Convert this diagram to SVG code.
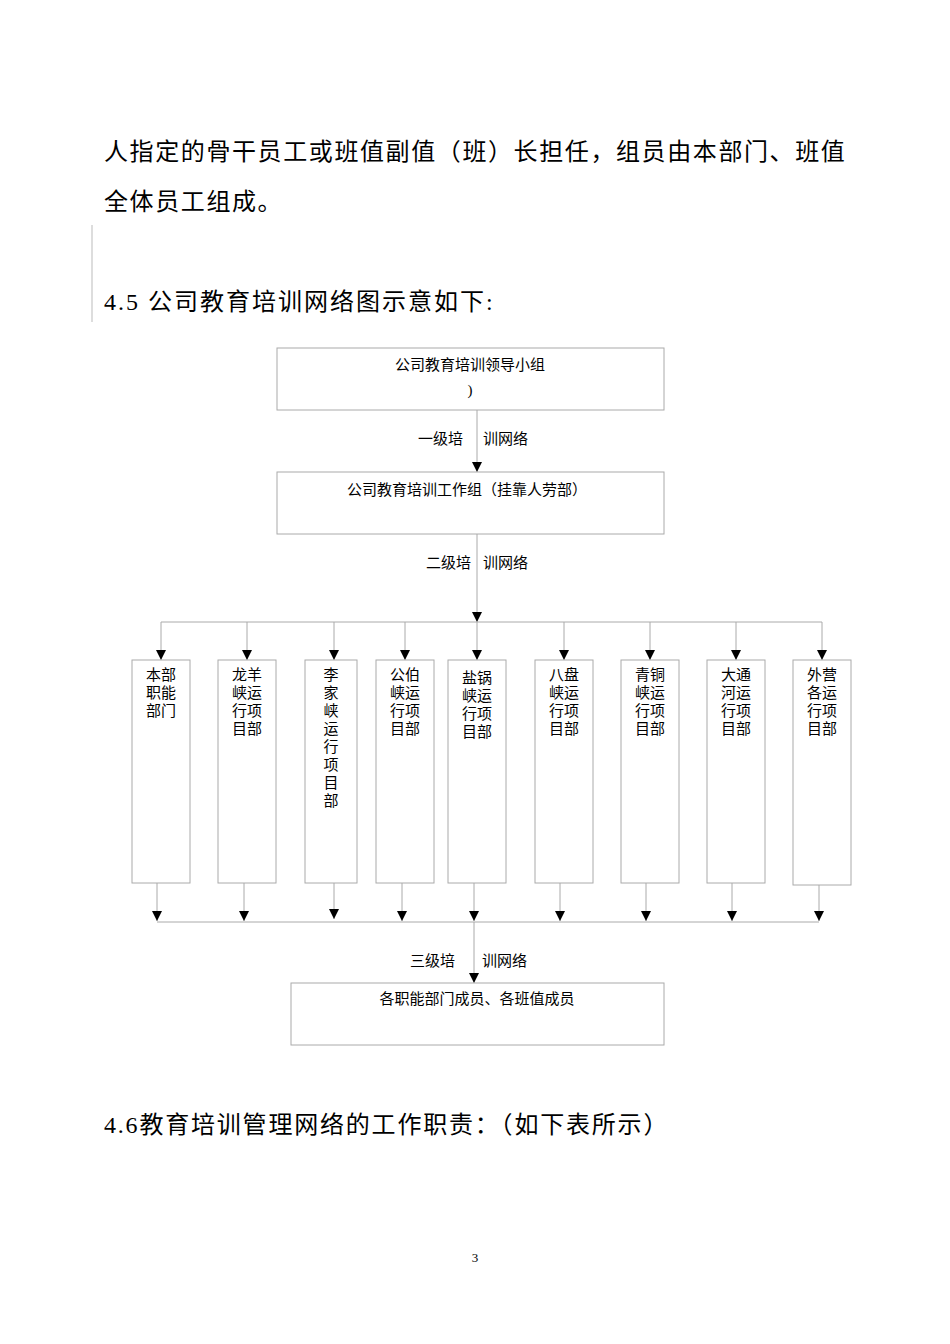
<svg xmlns="http://www.w3.org/2000/svg" width="950" height="1344" viewBox="0 0 950 1344">
<defs>
<marker id="ah" viewBox="0 0 10 10" refX="10" refY="5" markerWidth="10" markerHeight="10" markerUnits="userSpaceOnUse" orient="auto"><path d="M0,0 L10,5 L0,10 z" fill="#000"/></marker>
<style>
.b{fill:#fff;stroke:#aaa;stroke-width:1}
.t{font-family:"Liberation Serif","Noto Sans CJK SC",serif;font-size:15px;fill:#000}
.big{font-family:"Liberation Serif","Noto Sans CJK SC",serif;font-size:24px;fill:#000}
.c{stroke:#aaa;stroke-width:1;fill:none}
.a{stroke:#aaa;stroke-width:1;fill:none;marker-end:url(#ah)}
</style>
</defs>
<rect width="950" height="1344" fill="#fff"/>
<text class="big" x="104" y="160" letter-spacing="1.6">人指定的骨干员工或班值副值（班）长担任，组员由本部门、班值</text>
<text class="big" x="104" y="210" letter-spacing="1.6">全体员工组成。</text>
<line x1="92" y1="225" x2="92" y2="322" stroke="#bbb"/>
<text class="big" x="104" y="310" letter-spacing="2">4.5 公司教育培训网络图示意如下:</text>
<g id="connectors">
<line class="a" x1="477" y1="410" x2="477" y2="472"/>
<line class="a" x1="477" y1="534" x2="477" y2="622"/>
<line class="c" x1="161" y1="622" x2="822" y2="622"/>
<line class="a" x1="161" y1="622" x2="161" y2="660"/>
<line class="a" x1="247" y1="622" x2="247" y2="660"/>
<line class="a" x1="334" y1="622" x2="334" y2="660"/>
<line class="a" x1="405" y1="622" x2="405" y2="660"/>
<line class="a" x1="477" y1="622" x2="477" y2="660"/>
<line class="a" x1="564" y1="622" x2="564" y2="660"/>
<line class="a" x1="650" y1="622" x2="650" y2="660"/>
<line class="a" x1="736" y1="622" x2="736" y2="660"/>
<line class="a" x1="822" y1="622" x2="822" y2="660"/>
<line class="a" x1="157" y1="883" x2="157" y2="921"/>
<line class="a" x1="244" y1="883" x2="244" y2="921"/>
<line class="a" x1="334" y1="883" x2="334" y2="919"/>
<line class="a" x1="402" y1="883" x2="402" y2="921"/>
<line class="a" x1="474" y1="883" x2="474" y2="921"/>
<line class="a" x1="560" y1="883" x2="560" y2="921"/>
<line class="a" x1="646" y1="883" x2="646" y2="921"/>
<line class="a" x1="732" y1="883" x2="732" y2="921"/>
<line class="a" x1="819" y1="885" x2="819" y2="921"/>
<line class="c" x1="157" y1="922" x2="819" y2="922"/>
<line class="a" x1="474" y1="922" x2="474" y2="983"/>
</g>
<text class="t" x="418" y="444">一级培</text><text class="t" x="483" y="444">训网络</text>
<text class="t" x="426" y="568">二级培</text><text class="t" x="483" y="568">训网络</text>
<text class="t" x="410" y="966" font-size="18">三级培</text><text class="t" x="482" y="966" font-size="18">训网络</text>
<g id="n1"><rect class="b" x="277" y="348" width="387" height="62"/><text class="t" x="470" y="370" text-anchor="middle">公司教育培训领导小组</text><text class="t" x="470" y="395" text-anchor="middle" font-size="20">)</text></g>
<g id="n2"><rect class="b" x="277" y="472" width="387" height="62"/><text class="t" x="467" y="495" text-anchor="middle">公司教育培训工作组（挂靠人劳部）</text></g>
<g id="c1"><rect class="b" x="132" y="660" width="58" height="223"/><text class="t" x="161" y="680" text-anchor="middle">本部<tspan x="161" dy="18">职能</tspan><tspan x="161" dy="18">部门</tspan></text></g>
<g id="c2"><rect class="b" x="218" y="660" width="58" height="223"/><text class="t" x="247" y="680" text-anchor="middle">龙羊<tspan x="247" dy="18">峡运</tspan><tspan x="247" dy="18">行项</tspan><tspan x="247" dy="18">目部</tspan></text></g>
<g id="c3"><rect class="b" x="305" y="660" width="52" height="223"/><text class="t" x="331" y="680" text-anchor="middle">李<tspan x="331" dy="18">家</tspan><tspan x="331" dy="18">峡</tspan><tspan x="331" dy="18">运</tspan><tspan x="331" dy="18">行</tspan><tspan x="331" dy="18">项</tspan><tspan x="331" dy="18">目</tspan><tspan x="331" dy="18">部</tspan></text></g>
<g id="c4"><rect class="b" x="376" y="660" width="58" height="223"/><text class="t" x="405" y="680" text-anchor="middle">公伯<tspan x="405" dy="18">峡运</tspan><tspan x="405" dy="18">行项</tspan><tspan x="405" dy="18">目部</tspan></text></g>
<g id="c5"><rect class="b" x="448" y="660" width="58" height="223"/><text class="t" x="477" y="683" text-anchor="middle">盐锅<tspan x="477" dy="18">峡运</tspan><tspan x="477" dy="18">行项</tspan><tspan x="477" dy="18">目部</tspan></text></g>
<g id="c6"><rect class="b" x="535" y="660" width="58" height="223"/><text class="t" x="564" y="680" text-anchor="middle">八盘<tspan x="564" dy="18">峡运</tspan><tspan x="564" dy="18">行项</tspan><tspan x="564" dy="18">目部</tspan></text></g>
<g id="c7"><rect class="b" x="621" y="660" width="58" height="223"/><text class="t" x="650" y="680" text-anchor="middle">青铜<tspan x="650" dy="18">峡运</tspan><tspan x="650" dy="18">行项</tspan><tspan x="650" dy="18">目部</tspan></text></g>
<g id="c8"><rect class="b" x="707" y="660" width="58" height="223"/><text class="t" x="736" y="680" text-anchor="middle">大通<tspan x="736" dy="18">河运</tspan><tspan x="736" dy="18">行项</tspan><tspan x="736" dy="18">目部</tspan></text></g>
<g id="c9"><rect class="b" x="793" y="660" width="58" height="225"/><text class="t" x="822" y="680" text-anchor="middle">外营<tspan x="822" dy="18">各运</tspan><tspan x="822" dy="18">行项</tspan><tspan x="822" dy="18">目部</tspan></text></g>
<g id="n3"><rect class="b" x="291" y="983" width="373" height="62"/><text class="t" x="477" y="1004" text-anchor="middle">各职能部门成员、各班值成员</text></g>
<text class="big" x="104" y="1133" letter-spacing="1.8">4.6教育培训管理网络的工作职责：（如下表所示）</text>
<text x="475" y="1262" text-anchor="middle" font-family="Liberation Serif,serif" font-size="13">3</text>
</svg>
